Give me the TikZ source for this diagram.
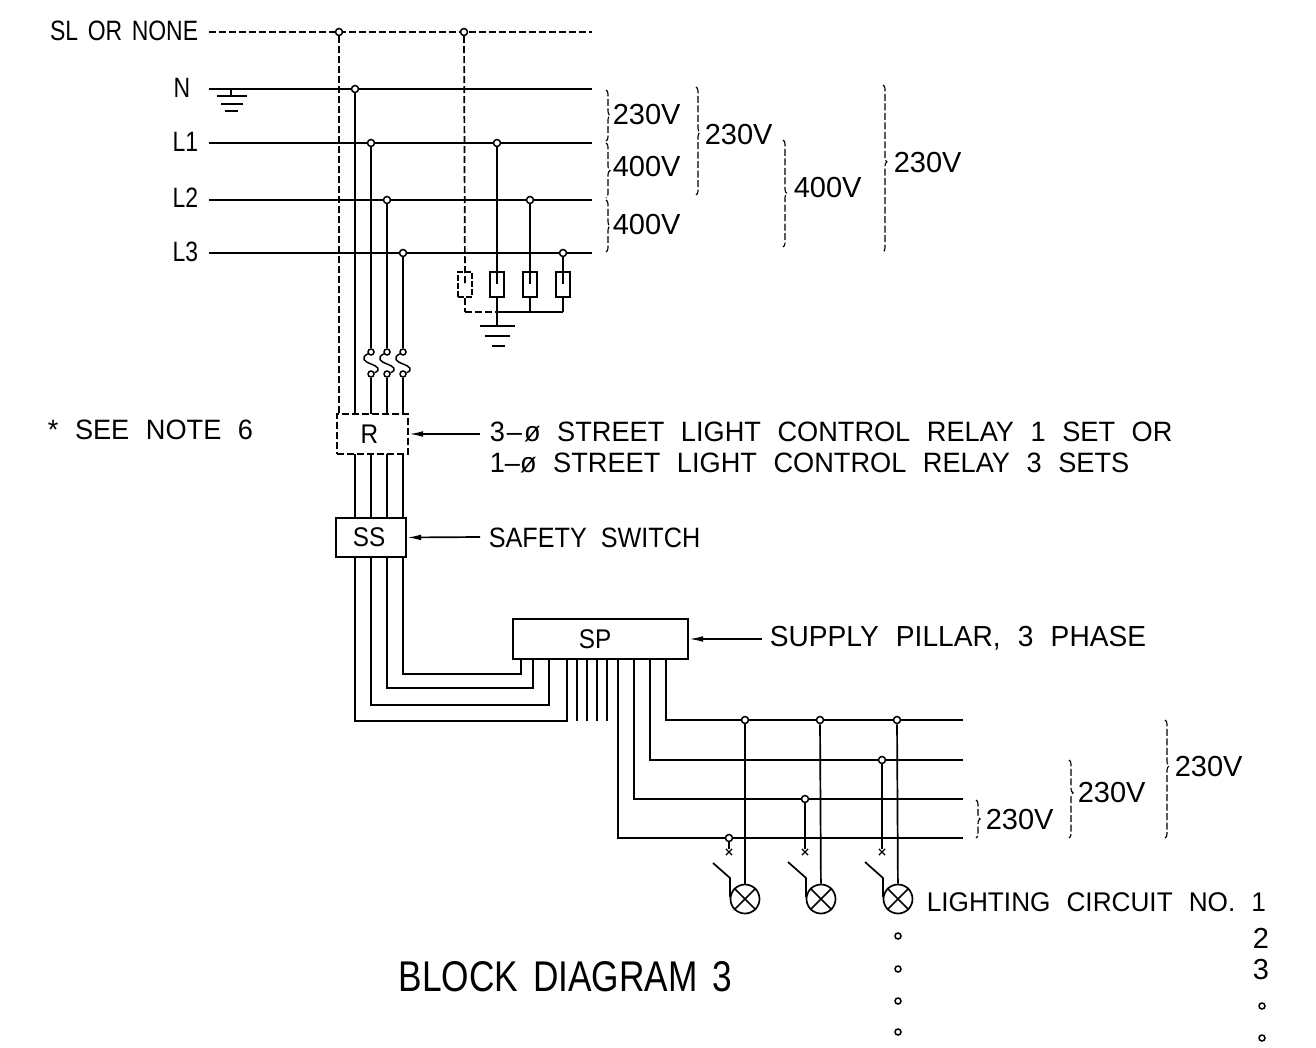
\documentclass[tikz,border=0pt]{standalone}
\usepackage{fontspec}
\setmainfont[FakeStretch=0.9,WordSpace=2]{Liberation Sans}
\newfontfamily\voltfont{Liberation Sans}
\newfontfamily\widefont[FakeStretch=0.97,WordSpace=2.2]{Liberation Sans}
\newfontfamily\tallfont[FakeStretch=0.82,WordSpace=1.5]{Liberation Sans}
\usetikzlibrary{arrows.meta}
\usetikzlibrary{decorations.pathreplacing}
\usetikzlibrary{shapes.misc}
\tikzset{>={Latex[length=5mm,width=2mm]}}

\begin{document}
\begin{tikzpicture}[x=1pt,y=-1pt,line width=1.7pt,
    lab/.style = {anchor=west,inner sep=0pt,font=\fontsize{28}{30}\selectfont},
    wide/.style = {anchor=west,inner sep=0pt,font=\widefont\fontsize{28}{30}\selectfont},
    side/.style = {anchor=east,inner sep=0pt,font=\tallfont\fontsize{28}{30}\selectfont},
    volt/.style = {anchor=west,inner sep=0pt,font=\voltfont\fontsize{29}{30}\selectfont},
    jun/.style = {draw,circle,fill=white,inner sep=0pt,minimum size=7pt,line width=1.5pt},
    box/.style = {draw,rectangle,inner sep=0pt,font=\fontsize{27}{30}\selectfont},
    fuse/.style = {draw,rectangle,minimum width=14pt,minimum height=25pt,inner sep=0pt},
    lamp/.style = {draw,circle,minimum size=29pt,inner sep=0pt},
    tick/.style = {draw,cross out,minimum size=5pt,inner sep=0pt,line width=1.2pt},
    dashes/.style = {dash pattern=on 7pt off 3pt},
    span/.style = {decorate,decoration={brace,amplitude=4pt},dash pattern=on 7pt off 2.5pt,line width=1.1pt}]
    \useasboundingbox (0,0) rectangle (1316,1048);
    % supply lines
    \node[side] (sl) at (199,31) {SL OR NONE};
    \node[side] (n) at (191,88) {N};
    \node[side] (l1) at (199,142) {L1};
    \node[side] (l2) at (199,198) {L2};
    \node[side] (l3) at (199,252) {L3};
    \foreach \y/\m in {32/sl,89/n,143/l1,200/l2,253/l3} {
        \coordinate (\m a) at (209,\y);
        \coordinate (\m b) at (592,\y);
    }
    \draw[dashes,line width=2pt] (sla) to (slb);
    \draw (na) to (nb);
    \draw[line width=2.6pt] (l1a) to (l1b);
    \draw (l2a) to (l2b);
    \draw (l3a) to (l3b);
    % earth on neutral
    \coordinate (e1) at (231,89);
    \coordinate (e2) at (231,96);
    \draw (e1) to (e2);
    \draw[line width=2.4pt] (217,96) -- (247,96) (221,104) -- (243,104) (225,111) -- (238,111);
    % boxes
    \node[box,dashes,minimum width=71pt,minimum height=40pt] (R) at (372.5,434) {R\hspace*{6pt}};
    \node[box,minimum width=70pt,minimum height=39pt] (SS) at (371,537.5) {SS\hspace*{4pt}};
    \node[box,minimum width=175pt,minimum height=40pt] (SP) at (600.5,639) {SP\hspace*{11pt}};
    % tappings to the relay
    \coordinate (r0) at (339,414);
    \coordinate (r1) at (355,414);
    \node[jun] (j0) at (339,32) {};
    \node[jun] (j1) at (355,89) {};
    \draw[dashes] (j0) to (r0);
    \draw (j1) to (r1);
    \foreach \x/\yy/\n in {371/143/2,387/200/3,403/253/4} {
        \node[jun] (j\n) at (\x,\yy) {};
        \node[jun,minimum size=6pt] (u\n) at (\x,352) {};
        \node[jun,minimum size=6pt] (w\n) at (\x,374) {};
        \coordinate (r\n) at (\x,414);
        \draw (j\n) to (u\n);
        \draw[line width=1.5pt] (u\n) .. controls (\x-11,358) and (\x-6,362) .. (\x,364)
            .. controls (\x+6,366) and (\x+11,370) .. (w\n);
        \draw (w\n) to (r\n);
    }
    % relay to switch to pillar
    \foreach \x/\yy/\u/\n in {355/721/567/1,371/705/549/2,387/688/533/3,403/674/521/4} {
        \coordinate (p\n) at (\x,454);
        \coordinate (q\n) at (\x,518);
        \coordinate (s\n) at (\x,557);
        \coordinate (t\n) at (\u,659);
        \coordinate (c\n) at (\u,\yy);
        \draw (p\n) to (q\n);
        \draw (s\n) |- (c\n) -- (t\n);
    }
    % spare ways
    \foreach \x/\n in {577/1,587/2,597/3,607/4} {
        \coordinate (g\n) at (\x,659);
        \coordinate (h\n) at (\x,721);
        \draw (g\n) to (h\n);
    }
    % surge arresters
    \node[jun] (k0) at (464,32) {};
    \node[jun] (k1) at (497,143) {};
    \node[jun] (k2) at (530,200) {};
    \node[jun] (k3) at (563,253) {};
    \node[fuse,dash pattern=on 6pt off 2pt] (f0) at (465,284.5) {};
    \node[fuse] (f1) at (497,284.5) {};
    \node[fuse] (f2) at (530,284.5) {};
    \node[fuse] (f3) at (563,284.5) {};
    \coordinate (b0) at (465,312);
    \coordinate (b1) at (497,312);
    \coordinate (b2) at (530,312);
    \coordinate (b3) at (563,312);
    \draw[dashes] (k0) to (f0.center);
    \draw (k1) to (f1.center);
    \draw (k2) to (f2.center);
    \draw (k3) to (f3.center);
    \draw[dashes] (f0) to (b0);
    \draw (f1) to (b1);
    \draw (f2) to (b2);
    \draw (f3) to (b3);
    \draw[dashes] (b0) to (b1);
    \draw (b1) to (b3);
    \coordinate (b4) at (497,326);
    \draw (b1) to (b4);
    \draw (480,326) -- (515,326) (485,336) -- (510,336) (492,346) -- (505,346);
    % lighting circuits
    \foreach \x/\yy/\n in {666/720/1,650/760/2,634/799/3,618/838/4} {
        \coordinate (v\n) at (\x,659);
        \coordinate (m\n) at (963,\yy);
        \draw (v\n) |- (m\n);
    }
    \node[jun] (a1) at (745,720) {};
    \node[jun] (a2) at (820,720) {};
    \node[jun] (a3) at (897,720) {};
    \node[jun] (a4) at (882,760) {};
    \node[jun] (a5) at (805,799) {};
    \node[jun] (a6) at (729,838) {};
    \node[tick] (x1) at (729,852) {};
    \node[tick] (x2) at (805,852) {};
    \node[tick] (x3) at (882,852) {};
    \node[lamp] (c1) at (745,899) {};
    \node[lamp] (c2) at (821,899) {};
    \node[lamp] (c3) at (898,899) {};
    \draw (a1) to (c1);
    \draw (a2) to (c2);
    \draw (a3) to (c3);
    \draw (a6) to (x1);
    \draw (a5) to (x2);
    \draw (a4) to (x3);
    \foreach \n in {1,2,3} {
        \draw (c\n.45) to (c\n.225);
        \draw (c\n.135) to (c\n.315);
    }
    \draw (713,863) -- (730,878) -- (730,897);
    \draw (788,862) -- (806,878) -- (806,897);
    \draw (865,862) -- (883,878) -- (883,897);
    % voltages
    \draw[span] (606,90) -- (606,141);
    \draw[span] (606,143) -- (606,198);
    \draw[span] (606,200) -- (606,252);
    \draw[span,decoration={aspect=0.42}] (696,87) -- (696,195);
    \draw[span] (783,140) -- (783,247);
    \draw[span,decoration={aspect=0.46}] (883,85) -- (883,252);
    \draw[span] (976,800) -- (976,838);
    \draw[span,decoration={aspect=0.42}] (1069,760) -- (1069,838);
    \draw[span,decoration={aspect=0.39}] (1165,720) -- (1165,838);
    \node[volt] (v1) at (612,115) {230V};
    \node[volt] (v2) at (612,167) {400V};
    \node[volt] (v3) at (612,225) {400V};
    \node[volt] (v4) at (704,135) {230V};
    \node[volt] (v5) at (793,188) {400V};
    \node[volt] (v6) at (893,163) {230V};
    \node[volt] (v7) at (985,820) {230V};
    \node[volt] (v8) at (1077,793) {230V};
    \node[volt] (v9) at (1174,767) {230V};
    % captions
    \node[wide] (note) at (47,430) {* SEE NOTE 6};
    \node[wide] (t1) at (489,432) {3\kern2pt\textendash\kern2ptø STREET LIGHT CONTROL RELAY 1 SET OR};
    \node[wide] (t2) at (489,463) {1\textendash ø STREET LIGHT CONTROL RELAY 3 SETS};
    \node[lab] (t3) at (488,538) {SAFETY SWITCH};
    \node[wide,font=\widefont\fontsize{29}{30}\selectfont] (t4) at (769,638) {SUPPLY PILLAR, 3 PHASE};
    \node[wide,font=\widefont\fontsize{27}{30}\selectfont] (t5) at (926,902) {LIGHTING CIRCUIT NO. 1};
    \node[volt] (t6) at (1252,938) {2};
    \node[volt] (t7) at (1252,970) {3};
    \node[side,anchor=west,font=\tallfont\fontsize{43}{44}\selectfont] (title) at (398,977) {BLOCK DIAGRAM 3};
    \coordinate (t1a) at (480,434);
    \coordinate (t3a) at (480,537);
    \coordinate (t4a) at (762,639);
    \draw[->] (t1a) to (R.east);
    \draw[->] (t3a) to (SS.east);
    \draw[->] (t4a) to (SP.east);
    % continuation marks
    \foreach \y/\n in {936/1,969/2,1001/3,1032/4}
        \node[jun,minimum size=6pt] (o\n) at (898,\y) {};
    \foreach \y/\n in {1006/1,1038/2}
        \node[jun,minimum size=6pt] (d\n) at (1262,\y) {};
\end{tikzpicture}
\end{document}
